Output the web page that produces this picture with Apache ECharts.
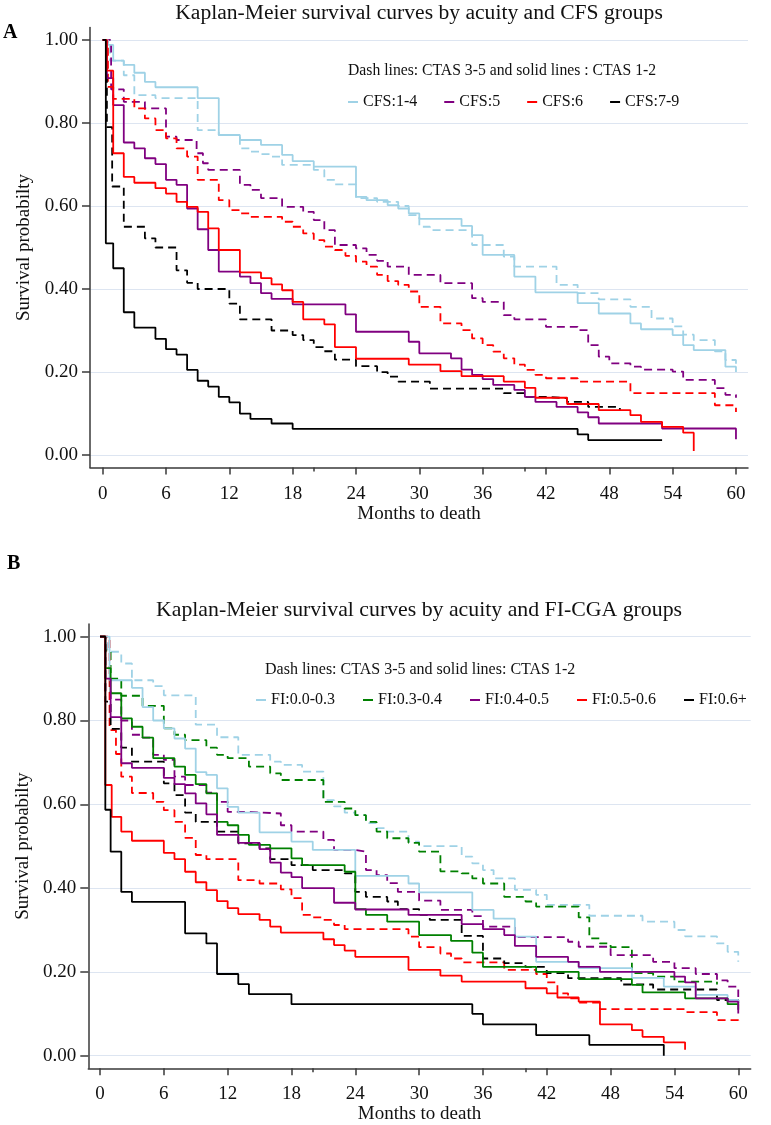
<!DOCTYPE html>
<html>
<head>
<meta charset="utf-8">
<script src="https://cdn.jsdelivr.net/npm/echarts@6/dist/echarts.min.js"></script>
<style>
html,body{margin:0;padding:0;background:#fff;}
#chart{width:771px;height:1125px;}
</style>
</head>
<body>
<div id="chart"></div>
<script>
// ---------- tick labels ----------
const monthTicks = [0, 6, 12, 18, 24, 30, 36, 42, 48, 54, 60];
const minorMonthTicks = [20, 40];
const probTicks = [0, 0.2, 0.4, 0.6, 0.8, 1.0];

// ---------- Panel A : CFS groups  [month, survival] ----------
const cfsNames = ['CFS:1-4', 'CFS:5', 'CFS:6', 'CFS:7-9'];

const cfs14Solid = [[0,1],[0.5,0.988],[1,0.95],[2,0.94],[3,0.921],[4,0.899],[5,0.886],[9,0.86],[11,0.771],[13,0.759],[15,0.747],[17,0.723],[18,0.708],[20,0.695],[24,0.622],[25,0.614],[27,0.602],[28,0.594],[29,0.582],[30,0.569],[34,0.552],[35,0.53],[36,0.482],[39,0.43],[41,0.392],[45,0.366],[47,0.341],[50,0.317],[51,0.303],[54,0.289],[55,0.265],[56,0.253],[59,0.213],[60,0.2]];
const cfs14Dash = [[0,1],[0.7,0.95],[2,0.915],[3,0.867],[5,0.86],[9,0.783],[11,0.771],[13,0.739],[14,0.731],[15,0.725],[16,0.719],[17,0.699],[20,0.687],[21,0.663],[22,0.652],[24,0.619],[26,0.61],[28,0.6],[29,0.578],[30,0.55],[31,0.542],[35,0.506],[38,0.478],[39,0.454],[43,0.41],[45,0.39],[47,0.375],[50,0.357],[52,0.329],[54,0.31],[55,0.29],[56,0.277],[58,0.25],[59,0.229],[60,0.21]];
const cfs5Solid = [[0,1],[0.4,0.908],[1,0.843],[2,0.753],[3,0.739],[4,0.715],[5,0.701],[6,0.663],[7,0.651],[8,0.594],[9,0.544],[10,0.494],[11,0.442],[13,0.43],[14,0.414],[15,0.39],[16,0.376],[18,0.363],[23,0.339],[24,0.297],[29,0.273],[30,0.245],[33,0.233],[34,0.206],[35,0.193],[36,0.183],[37,0.169],[39,0.157],[40,0.14],[41,0.128],[43,0.116],[45,0.103],[46,0.091],[47,0.076],[53,0.064],[60,0.038]];
const cfs5Dash = [[0,1],[0.8,0.881],[2,0.851],[4,0.835],[6,0.767],[7,0.759],[8.9,0.727],[9.5,0.703],[10,0.687],[13,0.651],[14,0.639],[15,0.619],[17,0.598],[19,0.586],[20,0.566],[21,0.542],[22,0.506],[24,0.498],[25,0.482],[26,0.468],[27,0.454],[29,0.434],[32,0.414],[35,0.378],[36,0.369],[38,0.337],[39,0.327],[42,0.309],[45,0.301],[46,0.265],[47,0.237],[48,0.221],[50,0.213],[51,0.206],[54,0.201],[55,0.181],[58,0.161],[59,0.145],[60,0.138]];
const cfs6Solid = [[0,1],[0.4,0.926],[1,0.727],[2,0.67],[3,0.656],[5,0.643],[6,0.63],[7,0.61],[8,0.598],[9,0.586],[10,0.546],[11,0.494],[13,0.44],[15,0.426],[16,0.411],[17,0.397],[18,0.369],[19,0.327],[21,0.315],[22,0.26],[24,0.232],[29,0.218],[32,0.202],[34,0.19],[38,0.177],[40,0.162],[41,0.138],[44,0.123],[47,0.108],[50,0.096],[51,0.08],[53,0.068],[55,0.054],[56,0.01]];
const cfs6Dash = [[0,1],[0.5,0.887],[1,0.858],[3,0.835],[4,0.811],[5,0.783],[6,0.763],[7,0.739],[8,0.719],[9,0.663],[11,0.614],[12,0.59],[13,0.582],[14,0.574],[17,0.562],[18,0.55],[19,0.534],[20,0.518],[21,0.502],[22,0.494],[23,0.48],[24,0.466],[25,0.454],[26,0.434],[27,0.419],[28,0.41],[29,0.394],[30,0.357],[32,0.317],[34,0.301],[35,0.281],[36,0.265],[37,0.249],[38,0.233],[39,0.218],[40,0.205],[41,0.193],[42,0.185],[45,0.177],[50,0.149],[58,0.12],[60,0.104]];
const cfs79Solid = [[0,1],[0.3,0.51],[1,0.45],[2,0.344],[3,0.307],[5,0.28],[6,0.255],[7,0.242],[8,0.205],[9,0.179],[10,0.165],[11,0.14],[12,0.127],[13,0.10],[14,0.087],[16,0.076],[18,0.063],[45,0.05],[46,0.036],[53,0.036]];
const cfs79Dash = [[0,1],[0.4,0.79],[0.9,0.647],[2,0.55],[4,0.522],[5,0.50],[7,0.445],[8,0.415],[9,0.40],[12,0.365],[13,0.327],[16,0.30],[18,0.289],[19,0.277],[20,0.26],[21,0.25],[22,0.23],[24,0.214],[26,0.20],[27,0.189],[28,0.177],[31,0.16],[38,0.149],[40,0.14],[42,0.137],[44,0.128],[46,0.116],[49,0.108]];

// ---------- Panel B : FI-CGA groups  [month, survival] ----------
const fiNames = ['FI:0.0-0.3', 'FI:0.3-0.4', 'FI:0.4-0.5', 'FI:0.5-0.6', 'FI:0.6+'];

const fi03Solid = [[0,1],[0.9,0.896],[3,0.878],[4,0.832],[5,0.80],[6,0.781],[7,0.757],[8,0.733],[9,0.677],[10,0.67],[11,0.638],[12,0.594],[13,0.58],[15,0.533],[18,0.511],[20,0.491],[24,0.429],[29,0.411],[30,0.39],[35,0.348],[37,0.327],[39,0.284],[41,0.224],[45,0.209],[50,0.186],[53,0.165],[56,0.145],[59,0.133],[60,0.12]];
const fi03Dash = [[0,1],[0.7,0.964],[2,0.936],[3,0.896],[5,0.882],[6,0.86],[9,0.79],[11,0.76],[13,0.718],[16,0.702],[17,0.694],[19,0.678],[21,0.61],[22,0.595],[23,0.58],[24,0.574],[25,0.555],[26,0.543],[27,0.535],[29,0.511],[30,0.50],[34,0.475],[35,0.459],[36,0.443],[37,0.423],[39,0.396],[41,0.384],[42,0.36],[46,0.334],[51,0.32],[54,0.30],[55,0.285],[58,0.268],[59,0.248],[60,0.224]];
const fi34Solid = [[0,1],[0.5,0.925],[1,0.865],[2,0.805],[3,0.785],[4,0.759],[5,0.71],[7,0.69],[8,0.67],[9,0.648],[10,0.626],[11,0.558],[12,0.55],[13,0.527],[14,0.503],[16,0.495],[18,0.471],[19,0.455],[23,0.439],[24,0.35],[25,0.336],[27,0.32],[30,0.288],[33,0.274],[35,0.246],[36,0.212],[41,0.2],[45,0.183],[50,0.169],[51,0.151],[55,0.137],[59,0.123],[60,0.11]];
const fi34Dash = [[0,1],[0.5,0.967],[1,0.90],[2,0.859],[4,0.835],[6,0.781],[7,0.766],[8,0.753],[10,0.735],[11,0.718],[12,0.71],[14,0.69],[16,0.674],[17,0.658],[21,0.606],[23,0.59],[24,0.574],[25,0.558],[26,0.535],[27,0.519],[29,0.508],[30,0.487],[32,0.44],[34,0.435],[35,0.423],[36,0.411],[38,0.379],[40,0.368],[41,0.356],[45,0.33],[46,0.28],[47,0.268],[48,0.259],[50,0.197],[52,0.189],[54,0.177],[58,0.17]];
const fi45Solid = [[0,1],[0.5,0.9],[1,0.808],[2,0.698],[3,0.687],[6,0.663],[7,0.648],[8,0.626],[9,0.602],[10,0.576],[11,0.527],[13,0.508],[15,0.493],[16,0.461],[17,0.437],[18,0.426],[19,0.40],[22,0.365],[24,0.349],[29,0.336],[34,0.314],[36,0.302],[38,0.288],[39,0.262],[41,0.236],[44,0.224],[45,0.212],[47,0.2],[54,0.189],[55,0.175],[56,0.137],[59,0.129],[60,0.101]];
const fi45Dash = [[0,1],[0.5,0.87],[1,0.85],[2,0.80],[3,0.766],[4,0.759],[5,0.718],[6,0.706],[7,0.666],[8,0.646],[10,0.628],[11,0.606],[12,0.582],[14,0.578],[17,0.55],[18,0.535],[21,0.515],[22,0.491],[24,0.487],[25,0.443],[26,0.431],[27,0.412],[28,0.391],[30,0.37],[32,0.348],[35,0.333],[36,0.308],[39,0.283],[44,0.272],[45,0.26],[48,0.24],[52,0.224],[54,0.209],[56,0.195],[58,0.18],[59,0.165],[60,0.14]];
const fi56Solid = [[0,1],[0.5,0.646],[1.1,0.57],[2,0.535],[3,0.513],[6,0.484],[7,0.469],[8,0.439],[9,0.414],[10,0.395],[11,0.369],[12,0.352],[13,0.338],[15,0.324],[16,0.308],[17,0.294],[21,0.278],[22,0.264],[23,0.251],[24,0.236],[29,0.205],[32,0.191],[34,0.177],[40,0.161],[42,0.149],[43,0.139],[45,0.129],[47,0.075],[50,0.061],[51,0.045],[53,0.032],[55,0.014]];
const fi56Dash = [[0,1],[0.9,0.777],[1.5,0.72],[2,0.666],[3,0.627],[5,0.606],[6,0.586],[7,0.558],[8,0.52],[9,0.479],[10,0.469],[13,0.419],[15,0.411],[17,0.397],[18,0.376],[19,0.336],[20,0.33],[21,0.324],[22,0.312],[23,0.302],[29,0.284],[30,0.259],[32,0.244],[33,0.232],[34,0.223],[38,0.205],[41,0.195],[42,0.175],[43,0.149],[44,0.137],[45,0.127],[47,0.111],[55,0.104],[58,0.085],[60,0.078]];
const fi6Solid = [[0,1],[0.5,0.587],[1,0.487],[2,0.391],[3,0.367],[8,0.292],[10,0.268],[11,0.195],[13,0.171],[14,0.147],[18,0.123],[35,0.10],[36,0.075],[41,0.049],[46,0.026],[53,0.0]];
const fi6Dash = [[0,1],[0.5,0.845],[1,0.78],[2,0.735],[3,0.702],[6,0.65],[7,0.622],[8,0.58],[9,0.558],[11,0.535],[13,0.507],[15,0.495],[16,0.469],[18,0.455],[20,0.443],[23,0.435],[24,0.391],[25,0.379],[27,0.368],[28,0.35],[30,0.336],[31,0.324],[34,0.286],[36,0.232],[38,0.221],[40,0.212],[42,0.197],[44,0.185],[49,0.17],[52,0.158],[58,0.133],[60,0.125]];

// ---------- styling ----------
const FONT = '"Liberation Serif","Times New Roman",serif';
const C = { ltblue: '#9fd2e6', purple: '#800080', red: '#ff0000', black: '#000000', green: '#008000' };
const GRIDLINE = '#dde5f1';
const AXIS = '#3a3a3a';

function km(name, data, color, dashed, xi, yi) {
  return {
    type: 'line', name: name, data: data, step: 'end',
    xAxisIndex: xi, yAxisIndex: yi,
    symbol: 'none', showSymbol: false, silent: true,
    lineStyle: { color: color, width: 1.8, type: dashed ? [8, 5] : 'solid' },
    itemStyle: { color: color },
    z: dashed ? 3 : 4
  };
}

function mainX(grid, min, max, margin) {
  return {
    type: 'value', gridIndex: grid, min: min, max: max, position: 'bottom',
    name: 'Months to death', nameLocation: 'middle', nameGap: 31,
    nameTextStyle: { fontFamily: FONT, fontSize: 19, color: '#111' },
    axisLine: { show: true, onZero: false, lineStyle: { color: AXIS, width: 1.5 } },
    axisTick: { show: true, customValues: monthTicks, length: 7, lineStyle: { color: AXIS, width: 1.5 } },
    axisLabel: { customValues: monthTicks, margin: margin, fontFamily: FONT, fontSize: 19, color: '#111' },
    splitLine: { show: false }
  };
}
function minorX(grid, min, max) {
  return {
    type: 'value', gridIndex: grid, min: min, max: max, position: 'bottom',
    axisLine: { show: false, onZero: false },
    axisTick: { show: true, customValues: minorMonthTicks, length: 4, lineStyle: { color: AXIS, width: 1.5 } },
    axisLabel: { show: false },
    splitLine: { show: false }
  };
}
function mainY(grid, gap) {
  return {
    type: 'value', gridIndex: grid, min: -0.03, max: 1.03,
    name: 'Survival probabilty', nameLocation: 'middle', nameGap: gap,
    nameTextStyle: { fontFamily: FONT, fontSize: 19, color: '#111' },
    axisLine: { show: true, onZero: false, lineStyle: { color: AXIS, width: 1.5 } },
    axisTick: { show: true, customValues: probTicks, length: 8, lineStyle: { color: AXIS, width: 1.5 } },
    axisLabel: { customValues: probTicks, margin: 12, fontFamily: FONT, fontSize: 19, color: '#111',
      formatter: v => v.toFixed(2) },
    splitLine: { show: true, lineStyle: { color: GRIDLINE, width: 1.2 } }
  };
}

const titleStyle = (size) => ({ fontFamily: FONT, fontSize: size, fontWeight: 'normal', color: '#111', lineHeight: 24 });
const noteStyle = { fontFamily: FONT, fontSize: 16, fontWeight: 'normal', color: '#111', lineHeight: 20 };

const series = [
  km(cfsNames[0], cfs14Solid, C.ltblue, false, 0, 0),
  km(cfsNames[1], cfs5Solid, C.purple, false, 0, 0),
  km(cfsNames[2], cfs6Solid, C.red, false, 0, 0),
  km(cfsNames[3], cfs79Solid, C.black, false, 0, 0),
  km(cfsNames[0], cfs14Dash, C.ltblue, true, 0, 0),
  km(cfsNames[1], cfs5Dash, C.purple, true, 0, 0),
  km(cfsNames[2], cfs6Dash, C.red, true, 0, 0),
  km(cfsNames[3], cfs79Dash, C.black, true, 0, 0),

  km(fiNames[0], fi03Solid, C.ltblue, false, 2, 1),
  km(fiNames[1], fi34Solid, C.green, false, 2, 1),
  km(fiNames[2], fi45Solid, C.purple, false, 2, 1),
  km(fiNames[3], fi56Solid, C.red, false, 2, 1),
  km(fiNames[4], fi6Solid, C.black, false, 2, 1),
  km(fiNames[0], fi03Dash, C.ltblue, true, 2, 1),
  km(fiNames[1], fi34Dash, C.green, true, 2, 1),
  km(fiNames[2], fi45Dash, C.purple, true, 2, 1),
  km(fiNames[3], fi56Dash, C.red, true, 2, 1),
  km(fiNames[4], fi6Dash, C.black, true, 2, 1)
];

const legendBase = {
  orient: 'horizontal', icon: 'rect', itemHeight: 2, padding: 0,
  selectedMode: false,
  textStyle: { fontFamily: FONT, fontSize: 16, color: '#111', lineHeight: 18 }
};

const option = {
  animation: false,
  backgroundColor: '#ffffff',
  title: [
    { text: 'A', left: 3, top: 23, padding: 0, textStyle: { fontFamily: FONT, fontSize: 20, fontWeight: 'bold', color: '#000' } },
    { text: 'Kaplan-Meier survival curves by acuity and CFS groups', left: 419, top: 1, padding: 0, textAlign: 'center', textStyle: titleStyle(21.6) },
    { text: 'Dash lines: CTAS 3-5 and solid lines : CTAS 1-2', left: 348, top: 61, padding: 0, textStyle: Object.assign({}, noteStyle, { fontSize: 15.7 }) },
    { text: 'B', left: 7, top: 554, padding: 0, textStyle: { fontFamily: FONT, fontSize: 20, fontWeight: 'bold', color: '#000' } },
    { text: 'Kaplan-Meier survival curves by acuity and FI-CGA groups', left: 419, top: 598.5, padding: 0, textAlign: 'center', textStyle: titleStyle(21.8) },
    { text: 'Dash lines: CTAS 3-5 and solid lines: CTAS 1-2', left: 265, top: 660, padding: 0, textStyle: noteStyle }
  ],
  legend: [
    Object.assign({}, legendBase, { data: cfsNames, left: 348, top: 93, itemWidth: 10, itemGap: 27 }),
    Object.assign({}, legendBase, { data: fiNames, left: 256, top: 691, itemWidth: 10, itemGap: 28 })
  ],
  grid: [
    { left: 90, right: 23, top: 27.5, height: 440 },
    { left: 88.3, right: 20.3, top: 624.1, height: 444.2 }
  ],
  xAxis: [
    mainX(0, -1.2, 61.14, 17),
    minorX(0, -1.2, 61.14),
    mainX(1, -1.1, 61.17, 16),
    minorX(1, -1.1, 61.17)
  ],
  yAxis: [
    mainY(0, 47),
    mainY(1, 47)
  ],
  series: series
};

const chart = echarts.init(document.getElementById('chart'), null, { renderer: 'canvas' });
chart.setOption(option);
</script>
</body>
</html>
